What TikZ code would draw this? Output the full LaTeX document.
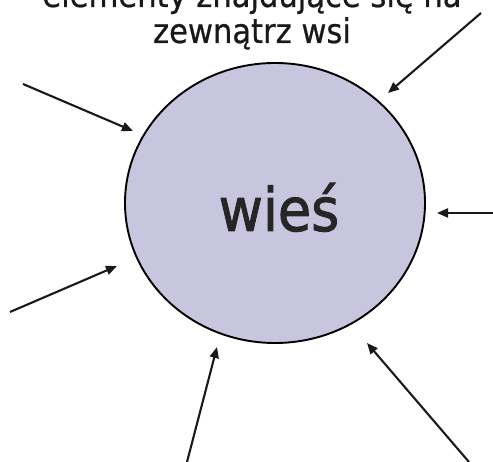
\documentclass[tikz,border=0pt]{standalone}
\usepackage{fontspec}
\setmainfont{DejaVu Sans Condensed}
\newfontfamily\namefont{DejaVu Sans Condensed}[FakeBold=1.6]
\newfontfamily\titlefont{DejaVu Sans Condensed}[FakeBold=0.6]
\usetikzlibrary{arrows.meta,shapes.geometric}
\definecolor{villagefill}{RGB}{200,198,222}
\tikzset{
  pointer/.style={line width=2.1pt, -{Triangle[length=11pt,width=9pt]}, draw=black!90},
  villagebox/.style={ellipse, draw=black, line width=1.9pt, fill=villagefill, minimum width=300pt, minimum height=280pt, inner sep=0pt},
}
\begin{document}
\begin{tikzpicture}[x=1pt,y=-1pt]
\useasboundingbox (0,0) rectangle (493,462);
\node[villagebox] (village) at (275,203) {};
\node[anchor=base, inner sep=0pt, text=black!85] (name) at (279,231) {\namefont\fontsize{60}{66}\selectfont wieś};
\node[anchor=base, inner sep=0pt, align=center, font=\titlefont\fontsize{34}{36}\selectfont, text=black!90] (title) at (252,43) {elementy znajdujące się na\\zewnątrz wsi};
% arrow ends
\coordinate (s1) at (481,13);  \coordinate (t1) at (388,93);
\coordinate (s2) at (23,84);   \coordinate (t2) at (133,131);
\coordinate (s3) at (493,213); \coordinate (t3) at (437,213);
\coordinate (s4) at (10,312);  \coordinate (t4) at (117,266);
\coordinate (s5) at (187,462); \coordinate (t5) at (217,347);
\coordinate (s6) at (469,462); \coordinate (t6) at (367,343);
\draw[pointer] (s1) -- (t1);
\draw[pointer] (s2) -- (t2);
\draw[pointer] (s3) -- (t3);
\draw[pointer] (s4) -- (t4);
\draw[pointer] (s5) -- (t5);
\draw[pointer] (s6) -- (t6);
\end{tikzpicture}
\end{document}
